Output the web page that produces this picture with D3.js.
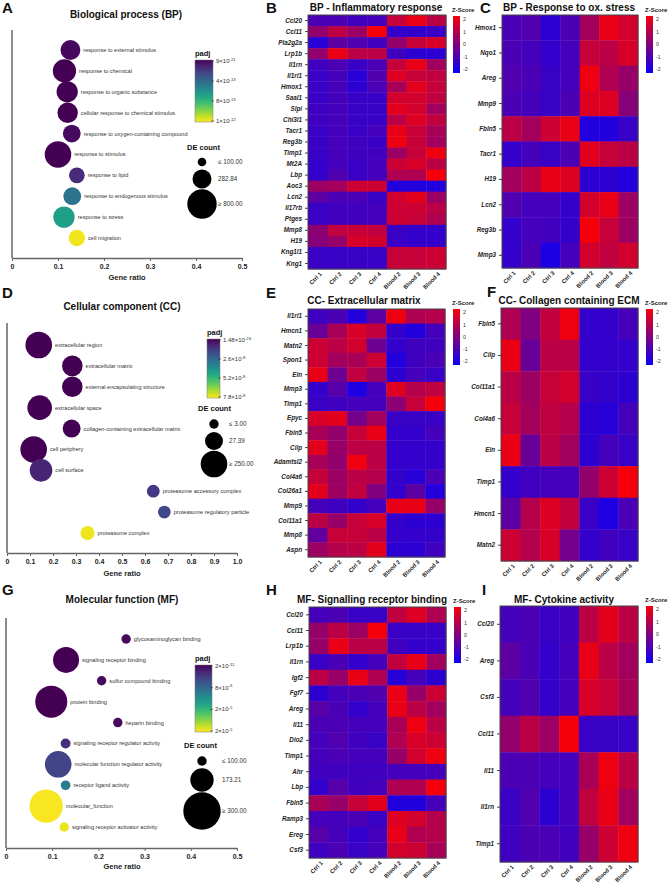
<!DOCTYPE html>
<html>
<head>
<meta charset="utf-8">
<script src="https://cdn.jsdelivr.net/npm/d3@7"></script>
<style>
  body { margin: 0; background: #fff; }
  svg { font-family: "Liberation Sans", Arial, sans-serif; }
</style>
</head>
<body>
<div class="container"></div>
<script>
// ---------- enrichment bubble data ----------
const bpTerms = ["response to external stimulus", "response to chemical", "response to organic substance",
  "cellular response to chemical stimulus", "response to oxygen-containing compound", "response to stimulus",
  "response to lipid", "response to endogenous stimulus", "response to stress", "cell migration"];
const bpRatio = [0.127, 0.114, 0.120, 0.121, 0.130, 0.100, 0.141, 0.131, 0.113, 0.141];
const bpCount = [307, 434, 354, 326, 250, 600, 204, 250, 360, 217];
const bpPadj = [2e-14, 9e-21, 5e-16, 1e-15, 3e-14, 9e-21, 1.2e-13, 3.8e-13, 5.6e-13, 9.8e-13];
const bpPadjLabels = [["9×10", "-21"], ["4×10", "-13"], ["8×10", "-13"], ["1×10", "-12"]];
const bpCountLegend = [100, 282.84, 800];
const bpCountLabels = ["≤  100.00", "282.84", "≥  800.00"];

const ccTerms = ["extracellular region", "extracellular matrix", "external encapsulating structure",
  "extracellular space", "collagen-containing extracellular matrix", "cell periphery", "cell surface",
  "proteasome accessory complex", "proteasome regulatory particle", "proteasome complex"];
const ccRatio = [0.138, 0.284, 0.284, 0.142, 0.281, 0.116, 0.148, 0.636, 0.684, 0.350];
const ccCount = [250, 53, 53, 150, 27, 250, 89, 7, 7, 10];
const ccPadj = [1e-24, 1e-12, 1e-12, 1e-20, 1e-12, 1e-22, 7.8e-9, 1.3e-8, 1.7e-8, 7.6e-8];
const ccPadjLabels = [["1.48×10", "-24"], ["2.6×10", "-8"], ["5.2×10", "-8"], ["7.8×10", "-8"]];
const ccCountLegend = [3, 27.39, 250];
const ccCountLabels = ["≤  3.00", "27.39", "≥  250.00"];

const mfTerms = ["glycosaminoglycan binding", "signaling receptor binding", "sulfur compound binding",
  "protein binding", "heparin binding", "signaling receptor regulator activity",
  "molecular function regulator activity", "receptor ligand activity", "molecular_function",
  "signaling receptor activator activity"];
const mfRatio = [0.260, 0.130, 0.207, 0.098, 0.242, 0.129, 0.113, 0.129, 0.087, 0.126];
const mfCount = [60, 192, 55, 243, 62, 102, 196, 101, 256, 95];
const mfPadj = [5e-7, 2e-11, 6e-7, 2e-11, 7e-7, 3.1e-6, 4.8e-6, 1.0e-5, 2.38e-5, 2.33e-5];
const mfPadjLabels = [["2×10", "-11"], ["8×10", "-6"], ["2×10", "-5"], ["2×10", "-5"]];
const mfCountLegend = [100, 173.21, 300];
const mfCountLabels = ["≤  100.00", "173.21", "≥  300.00"];

// ---------- heatmap data (z-scores) ----------
const samples = ["Ctrl 1", "Ctrl 2", "Ctrl 3", "Ctrl 4", "Blood 2", "Blood 3", "Blood 4"];
const zTicks = [2, 1, 0, -1, -2];

const inflGenes = ["Ccl20", "Ccl11", "Pla2g2a", "Lrp1b", "Il1rn", "Il1rl1", "Hmox1", "Saal1", "Slpi", "Chi3l1",
  "Tacr1", "Reg3b", "Timp1", "Mt2A", "Lbp", "Aoc3", "Lcn2", "Il17rb", "Ptges", "Mmp8", "H19", "Kng1l1", "Kng1"];
const inflZ = [
  [-0.9, -0.9, -1.1, -1.0, 1.2, 1.8, 1.0],
  [0.3, 1.0, 0.5, 2.0, -1.3, -1.3, -1.2],
  [-1.5, -0.6, -0.8, -1.1, 0.3, 1.2, 1.5],
  [0.3, 1.8, 1.0, 1.0, -1.1, -1.4, -1.4],
  [-1.1, -0.9, -1.2, -0.9, 1.2, 1.8, 0.6],
  [-1.2, -1.0, -1.5, -0.8, 1.6, 1.2, 1.1],
  [-1.2, -1.0, -1.4, -0.9, 0.7, 1.7, 1.2],
  [-1.2, -1.0, -1.2, -1.2, 1.4, 1.4, 1.1],
  [-1.1, -1.0, -1.2, -1.2, 1.7, 1.4, 0.6],
  [-1.1, -1.0, -1.2, -1.2, 1.0, 1.6, 1.1],
  [-1.2, -1.0, -1.2, -1.0, 1.8, 1.2, 0.7],
  [-1.2, -1.0, -1.1, -1.2, 1.9, 1.2, 0.6],
  [-1.2, -1.0, -1.1, -1.1, 0.5, 1.2, 1.9],
  [-1.3, -1.0, -1.2, -1.0, 1.3, 1.5, 1.0],
  [-1.3, -0.8, -1.2, -1.0, 0.8, 0.8, 2.0],
  [0.5, 0.6, 1.3, 1.3, -1.6, -1.6, -1.6],
  [-0.6, -0.9, -0.9, -1.2, 1.4, 1.7, 0.5],
  [-1.2, -1.1, -1.1, -1.0, 1.3, 1.3, 1.0],
  [-1.2, -1.1, -1.1, -1.0, 1.3, 1.2, 0.8],
  [0.2, 1.1, 1.2, 1.1, -1.2, -1.3, -1.3],
  [0.1, 0.4, 1.5, 1.4, -1.2, -1.3, -1.3],
  [-1.2, -1.2, -1.2, -1.2, 1.2, 1.2, 1.3],
  [-1.2, -1.2, -1.2, -1.2, 1.2, 1.2, 1.3]
];

const oxGenes = ["Hmox1", "Nqo1", "Areg", "Mmp9", "Fbln5", "Tacr1", "H19", "Lcn2", "Reg3b", "Mmp3"];
const oxZ = [
  [-0.9, -0.8, -1.4, -0.9, 0.6, 1.8, 1.4],
  [-0.9, -1.0, -1.3, -1.0, 1.2, 1.0, 1.5],
  [-0.8, -0.9, -1.2, -1.0, 1.9, 0.8, 0.4],
  [-0.9, -1.0, -1.2, -0.9, 1.6, 1.6, 0.1],
  [1.0, 0.6, 1.3, 1.8, -1.6, -1.6, -1.2],
  [-1.3, -1.0, -1.2, -0.9, 1.7, 1.2, 1.0],
  [0.6, 1.0, 1.8, 1.6, -1.4, -1.4, -1.6],
  [-0.8, -1.0, -1.0, -1.3, 1.4, 1.8, 0.5],
  [-1.3, -1.0, -1.1, -1.3, 2.0, 1.2, 0.5],
  [-1.3, -0.9, -1.7, -1.0, 1.4, 1.1, 1.4]
];

const ecmGenes = ["Il1rl1", "Hmcn1", "Matn2", "Spon1", "Eln", "Mmp3", "Timp1", "Epyc", "Fbln5", "Cilp",
  "Adamtsl2", "Col4a6", "Col26a1", "Mmp9", "Col11a1", "Mmp8", "Aspn"];
const ecmZ = [
  [-1.1, -0.9, -1.6, -0.6, 1.9, 0.8, 0.9],
  [-0.4, 0.7, 1.5, 1.1, -1.3, -1.6, -1.0],
  [1.3, 1.0, 1.4, -0.3, -1.3, -1.1, -1.1],
  [1.3, 0.6, 0.7, 1.3, -1.6, -1.1, -0.9],
  [1.8, -0.3, 1.1, 0.5, -1.4, -1.0, -1.2],
  [-1.3, -0.7, -1.7, -1.0, 1.6, 0.9, 1.1],
  [-1.2, -1.1, -1.0, -1.0, 0.2, 1.2, 2.0],
  [1.5, 1.7, -0.2, 0.6, -1.2, -1.2, -1.2],
  [0.7, 0.3, 1.2, 1.8, -1.3, -1.3, -1.0],
  [1.7, 0.4, 1.0, 1.0, -1.3, -1.3, -1.3],
  [0.7, 0.3, 1.9, 1.0, -1.3, -1.3, -1.3],
  [1.2, 0.5, 1.0, 0.9, -1.3, -1.5, -0.9],
  [1.7, 0.5, 1.1, 0.0, -1.3, -0.6, -1.6],
  [-1.0, -1.1, -1.3, -1.0, 1.8, 1.8, 0.4],
  [1.0, 0.4, 1.2, 1.5, -1.3, -1.4, -1.4],
  [-0.5, 1.2, 1.2, 1.0, -1.3, -1.3, -1.3],
  [0.5, 0.9, 1.0, 1.7, -1.4, -1.4, -1.1]
];

const colGenes = ["Fbln5", "Cilp", "Col11a1", "Col4a6", "Eln", "Timp1", "Hmcn1", "Matn2"];
const colZ = [
  [0.8, 0.0, 1.1, 1.9, -1.3, -1.3, -1.0],
  [1.8, -0.4, 1.0, 1.0, -1.3, -1.3, -1.3],
  [1.0, 0.5, 1.2, 1.4, -1.2, -1.3, -1.4],
  [1.2, 0.6, 1.1, 0.9, -1.4, -1.5, -1.0],
  [1.8, -0.4, 1.0, 0.6, -1.4, -1.0, -1.2],
  [-1.3, -1.1, -1.0, -1.0, 0.3, 1.3, 2.0],
  [-0.6, 0.9, 1.6, 1.1, -1.2, -1.7, -0.9],
  [1.3, 0.9, 1.5, -0.2, -1.3, -1.1, -1.2]
];

const srbGenes = ["Ccl20", "Ccl11", "Lrp1b", "Il1rn", "Igf2", "Fgf7", "Areg", "Il11", "Dio2", "Timp1",
  "Ahr", "Lbp", "Fbln5", "Ramp3", "Ereg", "Csf3"];
const srbZ = [
  [-1.0, -0.9, -1.2, -1.2, 1.1, 1.6, 0.8],
  [0.4, 1.0, 0.5, 2.0, -1.2, -1.2, -1.2],
  [0.4, 1.8, 1.0, 1.0, -1.1, -1.3, -1.3],
  [-1.2, -0.9, -1.3, -1.0, 1.1, 1.8, 0.6],
  [1.0, 0.4, 1.8, 0.8, -1.5, -1.0, -1.4],
  [-1.4, -1.0, -0.9, -0.8, 1.8, 0.4, 1.3],
  [-0.7, -0.9, -1.3, -1.0, 1.8, 1.0, 0.6],
  [-0.9, -0.9, -1.0, -1.0, 0.7, 1.9, 1.0],
  [-1.0, -0.8, -1.1, -1.2, 0.8, 1.5, 1.3],
  [-1.0, -0.9, -1.0, -1.0, 0.4, 1.4, 1.9],
  [-1.1, -1.1, -1.1, -1.1, -1.0, -1.0, -1.0],
  [-1.3, -0.7, -1.1, -1.0, 0.8, 0.8, 2.0],
  [0.7, 0.4, 1.2, 1.7, -1.6, -1.6, -1.0],
  [-1.0, -1.0, -0.9, -1.2, 1.6, 1.4, 0.9],
  [-0.7, -1.0, -1.3, -1.0, 1.8, 0.8, 0.9],
  [-1.1, -0.9, -1.2, -1.0, 1.4, 1.3, 0.7]
];

const cytGenes = ["Ccl20", "Areg", "Csf3", "Ccl11", "Il11", "Il1rn", "Timp1"];
const cytZ = [
  [-1.0, -0.9, -1.2, -1.1, 1.0, 1.7, 1.0],
  [-0.6, -0.9, -1.3, -1.0, 1.8, 1.0, 0.6],
  [-1.0, -0.8, -1.3, -1.0, 1.5, 1.2, 0.7],
  [0.3, 1.0, 0.5, 2.0, -1.2, -1.2, -1.2],
  [-0.9, -0.9, -1.0, -1.0, 0.7, 1.9, 1.0],
  [-1.2, -0.8, -1.4, -1.0, 1.1, 1.8, 0.6],
  [-1.1, -0.9, -0.9, -1.1, 0.4, 1.3, 1.9]
];

// ---------- canvas ----------
const svg = d3.select(".container").append("svg")
  .attr("width", 669)
  .attr("height", 886);
const defs = svg.append("defs");

const zColor = d3.scaleLinear().domain([-2, 0, 2]).range(["#0a00f5", "#800080", "#f5000a"]).clamp(true);

function letter(t, x, y) {
  svg.append("text").attr("x", x).attr("y", y)
    .attr("font-size", 15).attr("font-weight", "bold").attr("fill", "#111").text(t);
}

function supText(sel, pair) {
  sel.text(pair[0]);
  sel.append("tspan").attr("dy", -2.5).attr("font-size", "0.72em").text(pair[1]);
}

// ---------- bubble chart ----------
function bubblePanel(o) {
  const g = svg.append("g");
  const x = d3.scaleLinear().domain([0, o.xMax]).range([o.x0, o.x1]);
  const y = d3.scalePoint().domain(o.terms).range([o.y0, o.y1]);
  const r = d3.scaleLog().domain(o.countDomain).range(o.rRange).clamp(true);
  const col = v => d3.interpolateViridis(Math.min(1, v / o.padjMax));

  g.append("text")
    .attr("x", o.titleX).attr("y", o.titleY)
    .attr("text-anchor", "middle")
    .attr("font-size", 10).attr("font-weight", "bold").attr("fill", "#111")
    .text(o.title);

  //axes
  const xAxis = g.append("g")
    .attr("transform", `translate(0, ${o.axisY})`)
    .call(d3.axisBottom(x).tickValues(o.ticks).tickSize(3).tickSizeOuter(0)
      .tickFormat(d => d === 0 ? "0" : d3.format(".1f")(d)));
  xAxis.select(".domain").attr("stroke", "#666").attr("stroke-width", 1.5);
  xAxis.selectAll(".tick line").attr("stroke", "#666");
  xAxis.selectAll(".tick text").attr("font-size", 7).attr("font-weight", "bold").attr("fill", "#222");

  g.append("line")
    .attr("x1", o.x0).attr("x2", o.x0)
    .attr("y1", o.axisTop).attr("y2", o.axisY)
    .attr("stroke", "#666").attr("stroke-width", 1.5);

  g.append("text")
    .attr("x", o.xLabelX).attr("y", o.xLabelY)
    .attr("text-anchor", "middle")
    .attr("font-size", 7.5).attr("font-weight", "bold").attr("fill", "#222")
    .text("Gene ratio");

  //bubbles
  const rows = g.selectAll("g.term").data(o.terms).join("g").attr("class", "term");
  rows.append("circle")
    .attr("cx", (d, i) => x(o.ratio[i]))
    .attr("cy", d => y(d))
    .attr("r", (d, i) => r(o.count[i]))
    .attr("fill", (d, i) => col(o.padj[i]));
  rows.append("text")
    .attr("x", (d, i) => x(o.ratio[i]) + r(o.count[i]) + 3)
    .attr("y", d => y(d))
    .attr("dy", "0.35em")
    .attr("font-size", 5.6).attr("fill", "#333")
    .text(d => d);

  //padj colour bar
  const gid = "vir" + o.id;
  const lg = defs.append("linearGradient").attr("id", gid)
    .attr("x1", 0).attr("x2", 0).attr("y1", 0).attr("y2", 1);
  d3.range(0, 1.001, 0.1).forEach(t =>
    lg.append("stop").attr("offset", t).attr("stop-color", d3.interpolateViridis(t)));
  g.append("text").attr("x", o.barX).attr("y", o.barY0 - 4)
    .attr("font-size", 7.5).attr("font-weight", "bold").attr("fill", "#111").text("padj");
  g.append("rect")
    .attr("x", o.barX).attr("y", o.barY0)
    .attr("width", o.barW).attr("height", o.barY1 - o.barY0)
    .attr("fill", `url(#${gid})`).attr("stroke", "#777").attr("stroke-width", 0.5);
  const ty = d3.scalePoint().domain(d3.range(o.padjLabels.length)).range([o.barY0 + 1, o.barY1 - 1]);
  o.padjLabels.forEach((p, i) => {
    g.append("line")
      .attr("x1", o.barX + o.barW - 2).attr("x2", o.barX + o.barW + 1)
      .attr("y1", ty(i)).attr("y2", ty(i)).attr("stroke", "#333").attr("stroke-width", 0.6);
    supText(g.append("text")
      .attr("x", o.barX + o.barW + 3).attr("y", ty(i)).attr("dy", "0.35em")
      .attr("font-size", 6).attr("fill", "#333"), p);
  });

  //DE count legend
  g.append("text").attr("x", o.deX).attr("y", o.deY)
    .attr("font-size", 7.5).attr("font-weight", "bold").attr("fill", "#111").text("DE count");
  o.countLegend.forEach((v, i) => {
    g.append("circle").attr("cx", o.legCx).attr("cy", o.legCy[i]).attr("r", r(v)).attr("fill", "#000");
    g.append("text").attr("x", o.legTx).attr("y", o.legCy[i]).attr("dy", "0.35em")
      .attr("font-size", 6.3).attr("fill", "#333").text(o.countLabels[i]);
  });
}

// ---------- heatmap ----------
function heatPanel(o) {
  const g = svg.append("g");
  const x = d3.scaleBand().domain(samples).range([o.left, o.right]);
  const y = d3.scaleBand().domain(o.genes).range([o.top, o.bottom]);

  o.genes.forEach((gene, i) => {
    g.selectAll(null).data(o.z[i]).join("rect")
      .attr("x", (d, j) => x(samples[j]))
      .attr("y", y(gene))
      .attr("width", x.bandwidth() + 0.4)
      .attr("height", y.bandwidth() + 0.4)
      .attr("fill", d => zColor(d));
  });
  g.append("rect")
    .attr("x", o.left).attr("y", o.top)
    .attr("width", o.right - o.left).attr("height", o.bottom - o.top)
    .attr("fill", "none").attr("stroke", "#444").attr("stroke-width", 1);

  const yAxis = g.append("g")
    .attr("transform", `translate(${o.left}, 0)`)
    .call(d3.axisLeft(y).tickSize(3).tickSizeOuter(0));
  yAxis.select(".domain").remove();
  yAxis.selectAll(".tick line").attr("stroke", "#444");
  yAxis.selectAll(".tick text")
    .attr("font-size", 6.3).attr("font-weight", "bold").attr("font-style", "italic").attr("fill", "#222");

  g.selectAll("text.col").data(samples).join("text")
    .attr("class", "col")
    .attr("transform", d => `translate(${x(d) + x.bandwidth() / 2 + 3}, ${o.bottom + 4}) rotate(-45)`)
    .attr("text-anchor", "end")
    .attr("dy", "0.35em")
    .attr("font-size", 5.8).attr("font-weight", "bold").attr("fill", "#222")
    .text(d => d);

  g.append("text")
    .attr("x", o.titleX).attr("y", o.titleY)
    .attr("text-anchor", "middle")
    .attr("font-size", 10).attr("font-weight", "bold").attr("fill", "#111")
    .text(o.title);

  //z-score legend
  const gid = "z" + o.id;
  const lg = defs.append("linearGradient").attr("id", gid)
    .attr("x1", 0).attr("x2", 0).attr("y1", 0).attr("y2", 1);
  lg.append("stop").attr("offset", 0).attr("stop-color", zColor(2));
  lg.append("stop").attr("offset", 0.5).attr("stop-color", zColor(0));
  lg.append("stop").attr("offset", 1).attr("stop-color", zColor(-2));
  g.append("text").attr("x", o.legX - 1).attr("y", o.legY0 - 4)
    .attr("font-size", 6).attr("font-weight", "bold").attr("fill", "#222").text("Z-Score");
  g.append("rect").attr("x", o.legX).attr("y", o.legY0)
    .attr("width", 7).attr("height", o.legY1 - o.legY0)
    .attr("fill", `url(#${gid})`);
  const zy = d3.scaleLinear().domain([-2, 2]).range([o.legY1 - 3.5, o.legY0 + 3.5]);
  g.selectAll("text.zt").data(zTicks).join("text")
    .attr("class", "zt")
    .attr("x", o.legX + 10).attr("y", d => zy(d)).attr("dy", "0.35em")
    .attr("font-size", 5.3).attr("fill", "#333")
    .text(d => d);
}

// ---------- panels ----------
bubblePanel({
  id: "a", terms: bpTerms, ratio: bpRatio, count: bpCount, padj: bpPadj,
  title: "Biological process (BP)", titleX: 126, titleY: 18,
  xMax: 0.5, ticks: [0, 0.1, 0.2, 0.3, 0.4, 0.5], x0: 12, x1: 242,
  axisY: 258, axisTop: 30, y0: 50, y1: 238, xLabelX: 127, xLabelY: 280,
  countDomain: [100, 800], rRange: [4.3, 14.7], padjMax: 1e-12,
  barX: 195, barW: 18, barY0: 60, barY1: 122, padjLabels: bpPadjLabels,
  deX: 187, deY: 150, legCx: 202, legCy: [162, 179, 204], legTx: 218,
  countLegend: bpCountLegend, countLabels: bpCountLabels
});

bubblePanel({
  id: "d", terms: ccTerms, ratio: ccRatio, count: ccCount, padj: ccPadj,
  title: "Cellular component (CC)", titleX: 122, titleY: 310,
  xMax: 1, ticks: d3.range(0, 1.01, 0.1).map(v => +v.toFixed(1)), x0: 7, x1: 237,
  axisY: 553, axisTop: 323, y0: 345, y1: 533, xLabelX: 122, xLabelY: 576,
  countDomain: [3, 250], rRange: [4.7, 13.3], padjMax: 7.8e-8,
  barX: 207, barW: 13, barY0: 339, barY1: 398, padjLabels: ccPadjLabels,
  deX: 198, deY: 411, legCx: 214, legCy: [424, 441, 464], legTx: 229,
  countLegend: ccCountLegend, countLabels: ccCountLabels
});

bubblePanel({
  id: "g", terms: mfTerms, ratio: mfRatio, count: mfCount, padj: mfPadj,
  title: "Molecular function (MF)", titleX: 122, titleY: 603,
  xMax: 0.5, ticks: [0, 0.1, 0.2, 0.3, 0.4, 0.5], x0: 6, x1: 237,
  axisY: 848, axisTop: 618, y0: 639, y1: 827, xLabelX: 122, xLabelY: 869,
  countDomain: [100, 300], rRange: [4.7, 18.7], padjMax: 2.4e-5,
  barX: 195, barW: 17, barY0: 665, barY1: 732, padjLabels: mfPadjLabels,
  deX: 184, deY: 748, legCx: 202, legCy: [761, 780, 811], legTx: 222,
  countLegend: mfCountLegend, countLabels: mfCountLabels
});

heatPanel({ id: "b", genes: inflGenes, z: inflZ, left: 308, right: 446, top: 15, bottom: 269,
  title: "BP - Inflammatory response", titleX: 376, titleY: 11, legX: 453, legY0: 16, legY1: 73 });
heatPanel({ id: "c", genes: oxGenes, z: oxZ, left: 502, right: 638, top: 15, bottom: 268,
  title: "BP - Response to ox. stress", titleX: 569, titleY: 11, legX: 646, legY0: 16, legY1: 73 });
heatPanel({ id: "e", genes: ecmGenes, z: ecmZ, left: 308, right: 445, top: 309, bottom: 557,
  title: "CC- Extracellular matrix", titleX: 364, titleY: 304, legX: 453, legY0: 309, legY1: 365 });
heatPanel({ id: "f", genes: colGenes, z: colZ, left: 501, right: 638, top: 308, bottom: 561,
  title: "CC- Collagen containing ECM", titleX: 569, titleY: 304, legX: 646, legY0: 309, legY1: 365 });
heatPanel({ id: "h", genes: srbGenes, z: srbZ, left: 309, right: 446, top: 607, bottom: 858,
  title: "MF- Signalling receptor binding", titleX: 372, titleY: 603, legX: 454, legY0: 607, legY1: 663 });
heatPanel({ id: "i", genes: cytGenes, z: cytZ, left: 500, right: 638, top: 606, bottom: 862,
  title: "MF- Cytokine activity", titleX: 564, titleY: 603, legX: 646, legY0: 606, legY1: 663 });

letter("A", 2, 13);
letter("B", 266, 13);
letter("C", 480, 13);
letter("D", 2, 298);
letter("E", 266, 298);
letter("F", 487, 297);
letter("G", 2, 595);
letter("H", 266, 595);
letter("I", 482, 595);
</script>
</body>
</html>
